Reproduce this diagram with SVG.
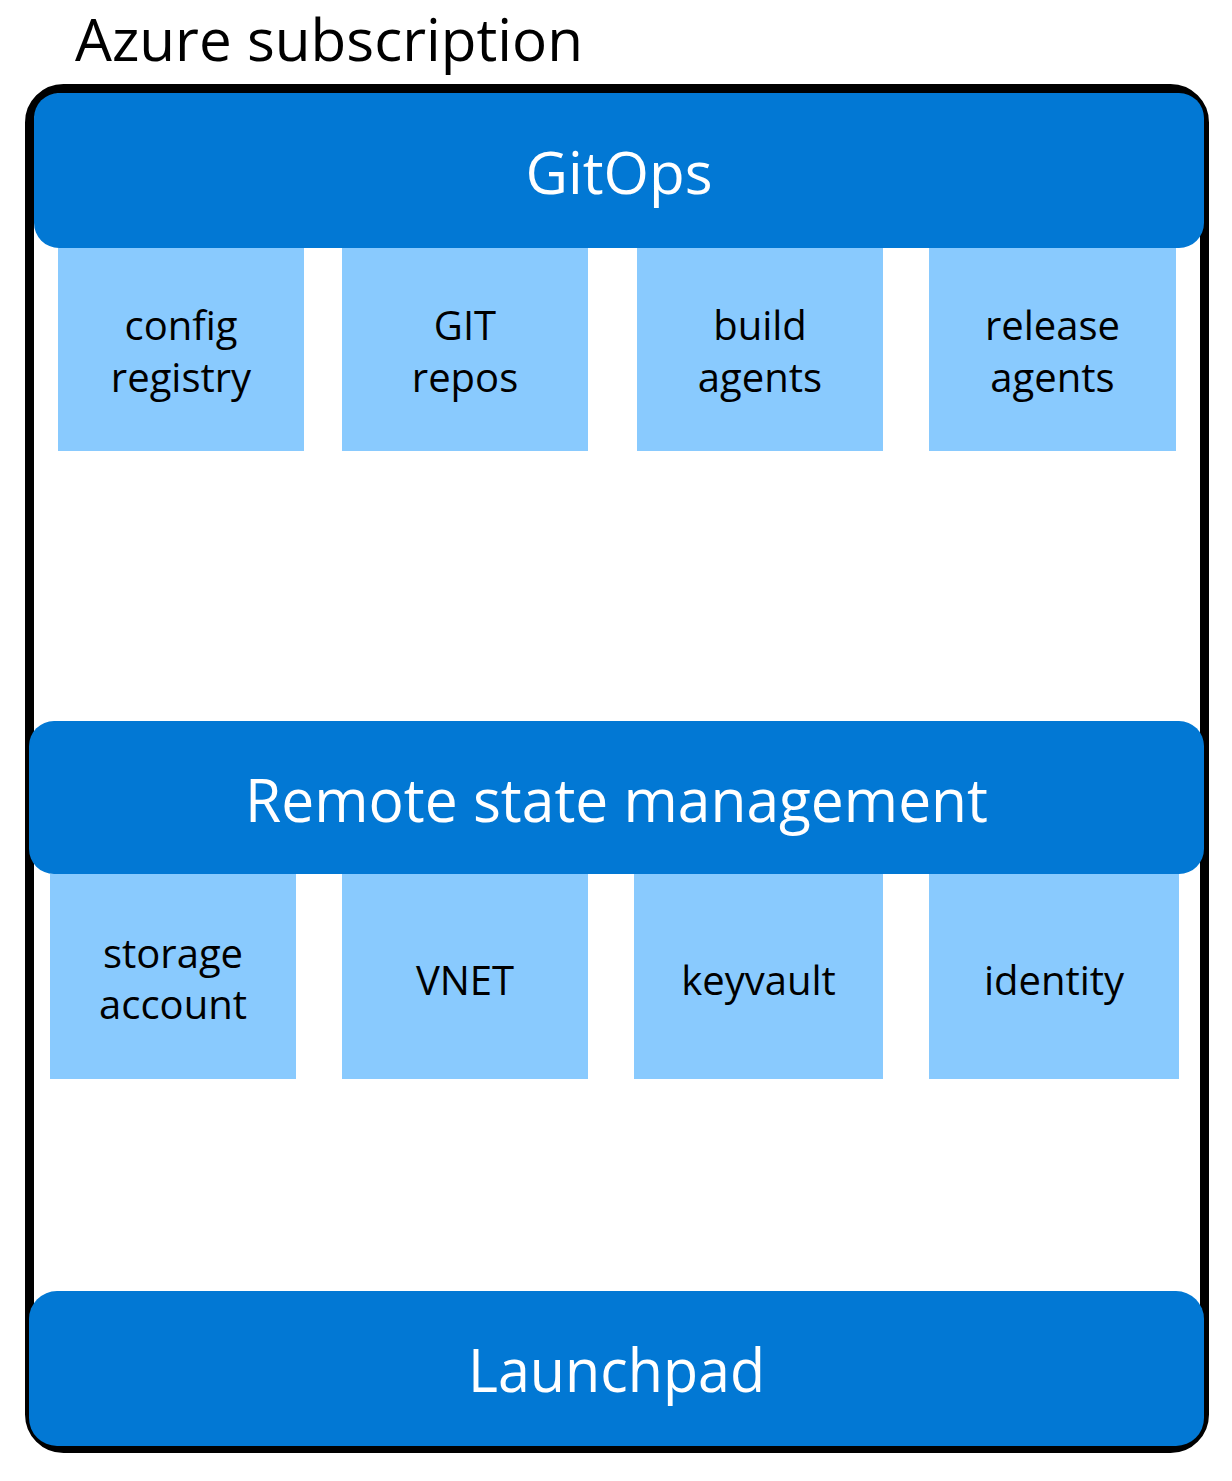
<svg xmlns="http://www.w3.org/2000/svg" width="1232" height="1481" viewBox="0 0 1232 1481">
  <style>
    .frame { fill: #ffffff; stroke: #000000; stroke-width: 9; }
    .bar { fill: #0278d4; }
    .box { fill: #89cafe; }
    .bartxt { font-family: "Open Sans", "Noto Sans", "Liberation Sans", sans-serif; fill: #ffffff; text-anchor: middle; }
    .boxtxt { font-family: "Open Sans", "Noto Sans", "Liberation Sans", sans-serif; font-size: 40px; fill: #000000; text-anchor: middle; }
    .title { font-family: "Open Sans", "Noto Sans", "Liberation Sans", sans-serif; font-size: 58px; fill: #000000; }
  </style>
  <rect width="1232" height="1481" fill="#ffffff"/>

  <g id="subscription">
    <rect class="frame" x="29.5" y="88.5" width="1175" height="1360" rx="34" ry="34"/>
    <text class="title" x="75" y="61" textLength="508" lengthAdjust="spacingAndGlyphs">Azure subscription</text>
  </g>

  <g id="gitops">
    <rect class="bar" x="34" y="93" width="1170" height="155" rx="25" ry="25"/>
    <text class="bartxt" x="619" y="194" font-size="58" textLength="187" lengthAdjust="spacingAndGlyphs">GitOps</text>
  </g>

  <g id="config-registry">
    <rect class="box" x="58" y="248" width="246" height="203"/>
    <text class="boxtxt" x="181" y="340">config</text>
    <text class="boxtxt" x="181" y="392">registry</text>
  </g>
  <g id="git-repos">
    <rect class="box" x="342" y="248" width="246" height="203"/>
    <text class="boxtxt" x="465" y="340">GIT</text>
    <text class="boxtxt" x="465" y="392">repos</text>
  </g>
  <g id="build-agents">
    <rect class="box" x="637" y="248" width="246" height="203"/>
    <text class="boxtxt" x="760" y="340">build</text>
    <text class="boxtxt" x="760" y="392">agents</text>
  </g>
  <g id="release-agents">
    <rect class="box" x="929" y="248" width="247" height="203"/>
    <text class="boxtxt" x="1052.5" y="340">release</text>
    <text class="boxtxt" x="1052.5" y="392">agents</text>
  </g>

  <g id="remote-state">
    <rect class="bar" x="29" y="721" width="1175" height="153" rx="25" ry="25"/>
    <text class="bartxt" x="616.5" y="822" font-size="60" textLength="743" lengthAdjust="spacingAndGlyphs">Remote state management</text>
  </g>

  <g id="storage-account">
    <rect class="box" x="50" y="874" width="246" height="205"/>
    <text class="boxtxt" x="173" y="968">storage</text>
    <text class="boxtxt" x="173" y="1019">account</text>
  </g>
  <g id="vnet">
    <rect class="box" x="342" y="874" width="246" height="205"/>
    <text class="boxtxt" x="465" y="995">VNET</text>
  </g>
  <g id="keyvault">
    <rect class="box" x="634" y="874" width="249" height="205"/>
    <text class="boxtxt" x="758.5" y="995">keyvault</text>
  </g>
  <g id="identity">
    <rect class="box" x="929" y="874" width="250" height="205"/>
    <text class="boxtxt" x="1054" y="995">identity</text>
  </g>

  <g id="launchpad">
    <rect class="bar" x="29" y="1291" width="1175" height="155" rx="28" ry="28"/>
    <text class="bartxt" x="616.5" y="1392" font-size="60" textLength="297" lengthAdjust="spacingAndGlyphs">Launchpad</text>
  </g>

  <g id="connectors"></g>
</svg>
